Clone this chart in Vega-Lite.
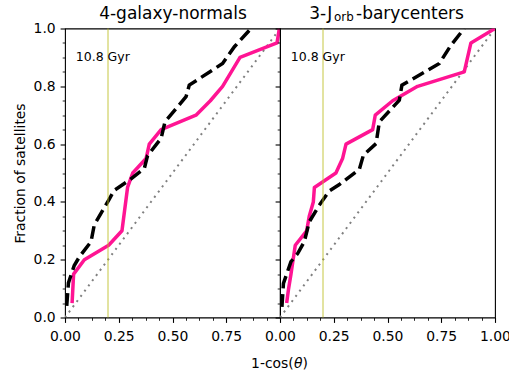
{
  "$schema": "https://vega.github.io/schema/vega-lite/v6.json",
  "autosize": {"type": "pad"},
  "padding": {"left": 12, "top": 3.5, "right": 0, "bottom": 0},
  "background": "white",
  "spacing": 0,
  "bounds": "flush",
  "config": {
    "view": {"stroke": "black", "strokeWidth": 1.1},
    "font": "DejaVu Sans",
    "axis": {
      "labelFont": "DejaVu Sans", "labelFontSize": 13.9, "labelColor": "black",
      "tickColor": "black", "tickWidth": 1.1, "domain": false, "grid": false,
      "titleFont": "DejaVu Sans", "titleFontSize": 13.9, "titleFontWeight": "normal", "titleColor": "black",
      "labelFlush": false, "labelOverlap": false
    },
    "text": {"font": "DejaVu Sans", "color": "black"}
  },
  "datasets": {
    "diag": [{"x": 0, "y": 0}, {"x": 1, "y": 1}],
    "left_pink": [
      {"x": 0.033, "y": 0.05}, {"x": 0.04, "y": 0.15}, {"x": 0.09, "y": 0.2}, {"x": 0.203, "y": 0.25},
      {"x": 0.265, "y": 0.3}, {"x": 0.291, "y": 0.45}, {"x": 0.315, "y": 0.5}, {"x": 0.377, "y": 0.55},
      {"x": 0.392, "y": 0.6}, {"x": 0.447, "y": 0.65}, {"x": 0.609, "y": 0.7}, {"x": 0.676, "y": 0.75},
      {"x": 0.733, "y": 0.8}, {"x": 0.814, "y": 0.9}, {"x": 0.986, "y": 0.95}, {"x": 0.997, "y": 1.0}
    ],
    "left_black": [
      {"x": 0.008, "y": 0.04}, {"x": 0.016, "y": 0.12}, {"x": 0.043, "y": 0.18}, {"x": 0.067, "y": 0.21},
      {"x": 0.121, "y": 0.262}, {"x": 0.136, "y": 0.32}, {"x": 0.206, "y": 0.41}, {"x": 0.229, "y": 0.44},
      {"x": 0.299, "y": 0.475}, {"x": 0.369, "y": 0.516}, {"x": 0.384, "y": 0.56}, {"x": 0.447, "y": 0.62},
      {"x": 0.465, "y": 0.677}, {"x": 0.563, "y": 0.764}, {"x": 0.578, "y": 0.804}, {"x": 0.733, "y": 0.879},
      {"x": 0.788, "y": 0.937}, {"x": 0.865, "y": 1.0}
    ],
    "right_pink": [
      {"x": 0.031, "y": 0.05}, {"x": 0.04, "y": 0.1}, {"x": 0.051, "y": 0.15}, {"x": 0.071, "y": 0.25},
      {"x": 0.124, "y": 0.3}, {"x": 0.136, "y": 0.35}, {"x": 0.155, "y": 0.4}, {"x": 0.16, "y": 0.45},
      {"x": 0.26, "y": 0.5}, {"x": 0.291, "y": 0.55}, {"x": 0.307, "y": 0.6}, {"x": 0.431, "y": 0.65},
      {"x": 0.443, "y": 0.7}, {"x": 0.524, "y": 0.75}, {"x": 0.64, "y": 0.8}, {"x": 0.857, "y": 0.85},
      {"x": 0.888, "y": 0.95}, {"x": 1.0, "y": 1.0}
    ],
    "right_black": [
      {"x": 0.009, "y": 0.037}, {"x": 0.016, "y": 0.118}, {"x": 0.051, "y": 0.193}, {"x": 0.082, "y": 0.221},
      {"x": 0.113, "y": 0.262}, {"x": 0.136, "y": 0.331}, {"x": 0.183, "y": 0.389}, {"x": 0.229, "y": 0.438},
      {"x": 0.276, "y": 0.46}, {"x": 0.369, "y": 0.513}, {"x": 0.388, "y": 0.562}, {"x": 0.447, "y": 0.602},
      {"x": 0.462, "y": 0.677}, {"x": 0.555, "y": 0.752}, {"x": 0.567, "y": 0.804}, {"x": 0.741, "y": 0.879},
      {"x": 0.795, "y": 0.942}, {"x": 0.857, "y": 1.0}
    ]
  },
  "hconcat": [
    {
      "width": 215, "height": 289,
      "resolve": {"axis": {"x": "independent", "y": "independent"}},
      "layer": [
        {
          "data": {"name": "diag"},
          "mark": {"type": "line", "color": "#808080", "strokeDash": [2, 4.5], "strokeWidth": 2, "clip": true},
          "encoding": {
            "x": {"field": "x", "type": "quantitative", "scale": {"domain": [0, 1], "nice": false, "zero": false},
                  "axis": {"orient": "bottom", "values": [0, 0.25, 0.5, 0.75], "format": ".2f", "tickSize": 4.9, "labelPadding": 7.5, "title": null}},
            "y": {"field": "y", "type": "quantitative", "scale": {"domain": [0, 1], "nice": false, "zero": false},
                  "axis": {"orient": "left", "values": [0, 0.2, 0.4, 0.6, 0.8, 1], "format": ".1f", "tickSize": 4.9, "labelPadding": 4.9, "title": "Fraction of satellites", "titlePadding": 6}}
          }
        },
        {
          "data": {"name": "left_pink"},
          "mark": {"type": "line", "color": "#ff1493", "strokeWidth": 3.5, "strokeJoin": "round", "clip": true},
          "encoding": {
            "x": {"field": "x", "type": "quantitative",
                  "axis": {"orient": "bottom", "values": [0.0625, 0.125, 0.1875, 0.3125, 0.375, 0.4375, 0.5625, 0.625, 0.6875, 0.8125, 0.875, 0.9375], "labels": false, "tickSize": 2.8, "tickWidth": 0.85, "title": null}},
            "y": {"field": "y", "type": "quantitative",
                  "axis": {"orient": "left", "values": [0.05, 0.1, 0.15, 0.25, 0.3, 0.35, 0.45, 0.5, 0.55, 0.65, 0.7, 0.75, 0.85, 0.9, 0.95], "labels": false, "tickSize": 2.8, "tickWidth": 0.85, "title": null}}
          }
        },
        {
          "data": {"name": "left_black"},
          "mark": {"type": "line", "color": "black", "strokeWidth": 3.5, "strokeDash": [12.8, 5.6], "clip": true},
          "encoding": {
            "x": {"field": "x", "type": "quantitative", "axis": null},
            "y": {"field": "y", "type": "quantitative", "axis": null}
          }
        },
        {
          "data": {"values": [{}]},
          "mark": {"type": "rule", "color": "#bcbd22", "strokeWidth": 1, "opacity": 0.85},
          "encoding": {"x": {"datum": 0.2, "type": "quantitative", "axis": null}}
        },
        {
          "data": {"values": [{}]},
          "mark": {"type": "text", "text": "10.8 Gyr", "fontSize": 12.5, "align": "left", "baseline": "middle"},
          "encoding": {
            "x": {"datum": 0.05, "type": "quantitative", "axis": null},
            "y": {"datum": 0.9, "type": "quantitative", "axis": null}
          }
        },
        {
          "data": {"values": [{}]},
          "mark": {"type": "text", "text": "4-galaxy-normals", "fontSize": 17, "align": "center", "baseline": "alphabetic", "dx": 0.5, "dy": -10},
          "encoding": {
            "x": {"datum": 0.5, "type": "quantitative", "axis": null},
            "y": {"datum": 1, "type": "quantitative", "axis": null}
          }
        }
      ]
    },
    {
      "width": 215, "height": 289,
      "resolve": {"axis": {"x": "independent", "y": "independent"}},
      "layer": [
        {
          "data": {"name": "diag"},
          "mark": {"type": "line", "color": "#808080", "strokeDash": [2, 4.5], "strokeWidth": 2, "clip": true},
          "encoding": {
            "x": {"field": "x", "type": "quantitative", "scale": {"domain": [0, 1], "nice": false, "zero": false},
                  "axis": {"orient": "bottom", "values": [0, 0.25, 0.5, 0.75, 1], "format": ".2f", "tickSize": 4.9, "labelPadding": 7.5, "title": null}},
            "y": {"field": "y", "type": "quantitative", "scale": {"domain": [0, 1], "nice": false, "zero": false},
                  "axis": {"orient": "left", "values": [0, 0.2, 0.4, 0.6, 0.8, 1], "labels": false, "tickSize": 4.9, "title": null}}
          }
        },
        {
          "data": {"name": "right_pink"},
          "mark": {"type": "line", "color": "#ff1493", "strokeWidth": 3.5, "strokeJoin": "round", "clip": true},
          "encoding": {
            "x": {"field": "x", "type": "quantitative",
                  "axis": {"orient": "bottom", "values": [0.0625, 0.125, 0.1875, 0.3125, 0.375, 0.4375, 0.5625, 0.625, 0.6875, 0.8125, 0.875, 0.9375], "labels": false, "tickSize": 2.8, "tickWidth": 0.85, "title": null}},
            "y": {"field": "y", "type": "quantitative",
                  "axis": {"orient": "left", "values": [0.05, 0.1, 0.15, 0.25, 0.3, 0.35, 0.45, 0.5, 0.55, 0.65, 0.7, 0.75, 0.85, 0.9, 0.95], "labels": false, "tickSize": 2.8, "tickWidth": 0.85, "title": null}}
          }
        },
        {
          "data": {"name": "right_black"},
          "mark": {"type": "line", "color": "black", "strokeWidth": 3.5, "strokeDash": [12.8, 5.6], "clip": true},
          "encoding": {
            "x": {"field": "x", "type": "quantitative", "axis": null},
            "y": {"field": "y", "type": "quantitative", "axis": null}
          }
        },
        {
          "data": {"values": [{}]},
          "mark": {"type": "rule", "color": "#bcbd22", "strokeWidth": 1, "opacity": 0.85},
          "encoding": {"x": {"datum": 0.2, "type": "quantitative", "axis": null}}
        },
        {
          "data": {"values": [{}]},
          "mark": {"type": "text", "text": "10.8 Gyr", "fontSize": 12.5, "align": "left", "baseline": "middle"},
          "encoding": {
            "x": {"datum": 0.05, "type": "quantitative", "axis": null},
            "y": {"datum": 0.9, "type": "quantitative", "axis": null}
          }
        },
        {
          "data": {"values": [{}]},
          "mark": {"type": "text", "text": "3-J", "fontSize": 17, "align": "left", "baseline": "alphabetic", "dx": -78.2, "dy": -10},
          "encoding": {
            "x": {"datum": 0.5, "type": "quantitative", "axis": null},
            "y": {"datum": 1, "type": "quantitative", "axis": null}
          }
        },
        {
          "data": {"values": [{}]},
          "mark": {"type": "text", "text": "orb", "fontSize": 11.9, "align": "left", "baseline": "alphabetic", "dx": -53.4, "dy": -7.5},
          "encoding": {
            "x": {"datum": 0.5, "type": "quantitative", "axis": null},
            "y": {"datum": 1, "type": "quantitative", "axis": null}
          }
        },
        {
          "data": {"values": [{}]},
          "mark": {"type": "text", "text": "-barycenters", "fontSize": 17, "align": "left", "baseline": "alphabetic", "dx": -31.5, "dy": -10},
          "encoding": {
            "x": {"datum": 0.5, "type": "quantitative", "axis": null},
            "y": {"datum": 1, "type": "quantitative", "axis": null}
          }
        },
        {
          "data": {"values": [{}]},
          "mark": {"type": "text", "text": "1-cos(", "fontSize": 13.9, "align": "right", "baseline": "alphabetic", "dx": 13.7, "dy": 50.2},
          "encoding": {
            "x": {"datum": 0, "type": "quantitative", "axis": null},
            "y": {"datum": 0, "type": "quantitative", "axis": null}
          }
        },
        {
          "data": {"values": [{}]},
          "mark": {"type": "text", "text": "θ", "fontSize": 13.9, "fontStyle": "italic", "align": "left", "baseline": "alphabetic", "dx": 13.9, "dy": 50.2},
          "encoding": {
            "x": {"datum": 0, "type": "quantitative", "axis": null},
            "y": {"datum": 0, "type": "quantitative", "axis": null}
          }
        },
        {
          "data": {"values": [{}]},
          "mark": {"type": "text", "text": ")", "fontSize": 13.9, "align": "left", "baseline": "alphabetic", "dx": 22.4, "dy": 50.2},
          "encoding": {
            "x": {"datum": 0, "type": "quantitative", "axis": null},
            "y": {"datum": 0, "type": "quantitative", "axis": null}
          }
        }
      ]
    }
  ]
}
